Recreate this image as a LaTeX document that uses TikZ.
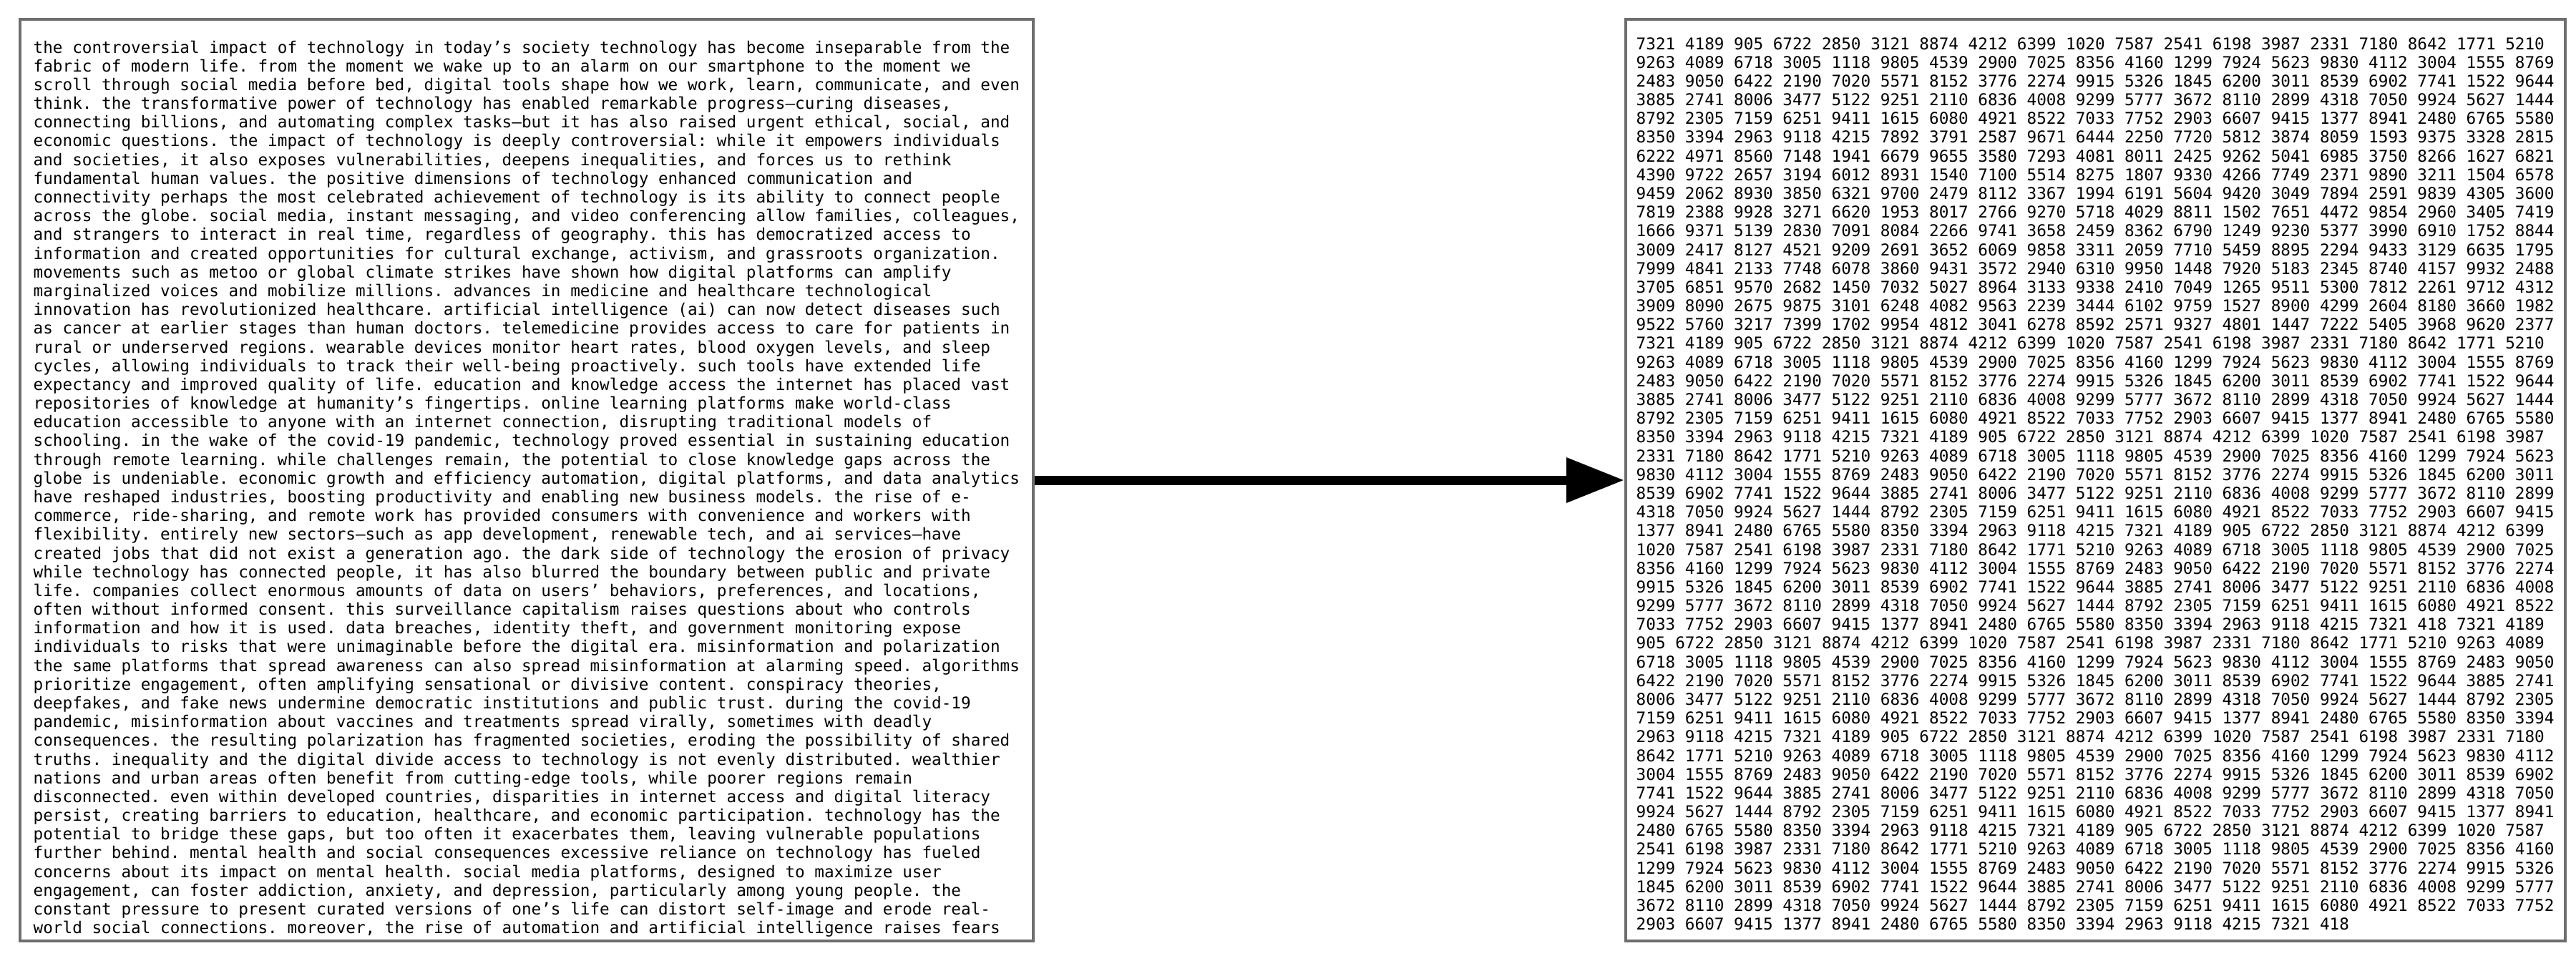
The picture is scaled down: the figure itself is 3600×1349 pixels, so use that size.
\documentclass[tikz,border=0pt]{standalone}
\usepackage{fontspec}
\setmonofont{DejaVu Sans Mono}
\usepackage{xcolor}
\usepackage{tikz}
\usetikzlibrary{arrows.meta}

\definecolor{boxgray}{HTML}{6E6E6E}

\begin{document}
\begin{tikzpicture}[x=0.1mm, y=-0.1mm,
    textbox/.style={draw=boxgray, line width=0.4mm, fill=white, inner sep=0pt},
    bodytext/.style={anchor=north west, inner sep=0pt, align=left,
        font=\ttfamily\fontsize{6.45pt}{7.45pt}\selectfont},
    bigarrow/.style={line width=1.3mm, -{Triangle[length=8.1mm, width=6mm]}}]

\useasboundingbox (0,0) rectangle (3600,1349);

% Input text box
\node[textbox, minimum width=141.6mm, minimum height=128.8mm] (essay) at (736,671) {};

% Output number box
\node[textbox, minimum width=131.3mm, minimum height=128.8mm] (digits) at (2928.5,671) {};

% Text inside the left box
\node[bodytext] (essaytext) at (46,56) {the controversial impact of technology in today’s society technology has become inseparable from the\\
fabric of modern life. from the moment we wake up to an alarm on our smartphone to the moment we\\
scroll through social media before bed, digital tools shape how we work, learn, communicate, and even\\
think. the transformative power of technology has enabled remarkable progress—curing diseases,\\
connecting billions, and automating complex tasks—but it has also raised urgent ethical, social, and\\
economic questions. the impact of technology is deeply controversial: while it empowers individuals\\
and societies, it also exposes vulnerabilities, deepens inequalities, and forces us to rethink\\
fundamental human values. the positive dimensions of technology enhanced communication and\\
connectivity perhaps the most celebrated achievement of technology is its ability to connect people\\
across the globe. social media, instant messaging, and video conferencing allow families, colleagues,\\
and strangers to interact in real time, regardless of geography. this has democratized access to\\
information and created opportunities for cultural exchange, activism, and grassroots organization.\\
movements such as metoo or global climate strikes have shown how digital platforms can amplify\\
marginalized voices and mobilize millions. advances in medicine and healthcare technological\\
innovation has revolutionized healthcare. artificial intelligence (ai) can now detect diseases such\\
as cancer at earlier stages than human doctors. telemedicine provides access to care for patients in\\
rural or underserved regions. wearable devices monitor heart rates, blood oxygen levels, and sleep\\
cycles, allowing individuals to track their well-being proactively. such tools have extended life\\
expectancy and improved quality of life. education and knowledge access the internet has placed vast\\
repositories of knowledge at humanity’s fingertips. online learning platforms make world-class\\
education accessible to anyone with an internet connection, disrupting traditional models of\\
schooling. in the wake of the covid-19 pandemic, technology proved essential in sustaining education\\
through remote learning. while challenges remain, the potential to close knowledge gaps across the\\
globe is undeniable. economic growth and efficiency automation, digital platforms, and data analytics\\
have reshaped industries, boosting productivity and enabling new business models. the rise of e-\\
commerce, ride-sharing, and remote work has provided consumers with convenience and workers with\\
flexibility. entirely new sectors—such as app development, renewable tech, and ai services—have\\
created jobs that did not exist a generation ago. the dark side of technology the erosion of privacy\\
while technology has connected people, it has also blurred the boundary between public and private\\
life. companies collect enormous amounts of data on users’ behaviors, preferences, and locations,\\
often without informed consent. this surveillance capitalism raises questions about who controls\\
information and how it is used. data breaches, identity theft, and government monitoring expose\\
individuals to risks that were unimaginable before the digital era. misinformation and polarization\\
the same platforms that spread awareness can also spread misinformation at alarming speed. algorithms\\
prioritize engagement, often amplifying sensational or divisive content. conspiracy theories,\\
deepfakes, and fake news undermine democratic institutions and public trust. during the covid-19\\
pandemic, misinformation about vaccines and treatments spread virally, sometimes with deadly\\
consequences. the resulting polarization has fragmented societies, eroding the possibility of shared\\
truths. inequality and the digital divide access to technology is not evenly distributed. wealthier\\
nations and urban areas often benefit from cutting-edge tools, while poorer regions remain\\
disconnected. even within developed countries, disparities in internet access and digital literacy\\
persist, creating barriers to education, healthcare, and economic participation. technology has the\\
potential to bridge these gaps, but too often it exacerbates them, leaving vulnerable populations\\
further behind. mental health and social consequences excessive reliance on technology has fueled\\
concerns about its impact on mental health. social media platforms, designed to maximize user\\
engagement, can foster addiction, anxiety, and depression, particularly among young people. the\\
constant pressure to present curated versions of one’s life can distort self-image and erode real-\\
world social connections. moreover, the rise of automation and artificial intelligence raises fears};

% Numbers inside the right box
\node[bodytext] (digitstext) at (2286,51.5) {7321 4189 905 6722 2850 3121 8874 4212 6399 1020 7587 2541 6198 3987 2331 7180 8642 1771 5210\\
9263 4089 6718 3005 1118 9805 4539 2900 7025 8356 4160 1299 7924 5623 9830 4112 3004 1555 8769\\
2483 9050 6422 2190 7020 5571 8152 3776 2274 9915 5326 1845 6200 3011 8539 6902 7741 1522 9644\\
3885 2741 8006 3477 5122 9251 2110 6836 4008 9299 5777 3672 8110 2899 4318 7050 9924 5627 1444\\
8792 2305 7159 6251 9411 1615 6080 4921 8522 7033 7752 2903 6607 9415 1377 8941 2480 6765 5580\\
8350 3394 2963 9118 4215 7892 3791 2587 9671 6444 2250 7720 5812 3874 8059 1593 9375 3328 2815\\
6222 4971 8560 7148 1941 6679 9655 3580 7293 4081 8011 2425 9262 5041 6985 3750 8266 1627 6821\\
4390 9722 2657 3194 6012 8931 1540 7100 5514 8275 1807 9330 4266 7749 2371 9890 3211 1504 6578\\
9459 2062 8930 3850 6321 9700 2479 8112 3367 1994 6191 5604 9420 3049 7894 2591 9839 4305 3600\\
7819 2388 9928 3271 6620 1953 8017 2766 9270 5718 4029 8811 1502 7651 4472 9854 2960 3405 7419\\
1666 9371 5139 2830 7091 8084 2266 9741 3658 2459 8362 6790 1249 9230 5377 3990 6910 1752 8844\\
3009 2417 8127 4521 9209 2691 3652 6069 9858 3311 2059 7710 5459 8895 2294 9433 3129 6635 1795\\
7999 4841 2133 7748 6078 3860 9431 3572 2940 6310 9950 1448 7920 5183 2345 8740 4157 9932 2488\\
3705 6851 9570 2682 1450 7032 5027 8964 3133 9338 2410 7049 1265 9511 5300 7812 2261 9712 4312\\
3909 8090 2675 9875 3101 6248 4082 9563 2239 3444 6102 9759 1527 8900 4299 2604 8180 3660 1982\\
9522 5760 3217 7399 1702 9954 4812 3041 6278 8592 2571 9327 4801 1447 7222 5405 3968 9620 2377\\
7321 4189 905 6722 2850 3121 8874 4212 6399 1020 7587 2541 6198 3987 2331 7180 8642 1771 5210\\
9263 4089 6718 3005 1118 9805 4539 2900 7025 8356 4160 1299 7924 5623 9830 4112 3004 1555 8769\\
2483 9050 6422 2190 7020 5571 8152 3776 2274 9915 5326 1845 6200 3011 8539 6902 7741 1522 9644\\
3885 2741 8006 3477 5122 9251 2110 6836 4008 9299 5777 3672 8110 2899 4318 7050 9924 5627 1444\\
8792 2305 7159 6251 9411 1615 6080 4921 8522 7033 7752 2903 6607 9415 1377 8941 2480 6765 5580\\
8350 3394 2963 9118 4215 7321 4189 905 6722 2850 3121 8874 4212 6399 1020 7587 2541 6198 3987\\
2331 7180 8642 1771 5210 9263 4089 6718 3005 1118 9805 4539 2900 7025 8356 4160 1299 7924 5623\\
9830 4112 3004 1555 8769 2483 9050 6422 2190 7020 5571 8152 3776 2274 9915 5326 1845 6200 3011\\
8539 6902 7741 1522 9644 3885 2741 8006 3477 5122 9251 2110 6836 4008 9299 5777 3672 8110 2899\\
4318 7050 9924 5627 1444 8792 2305 7159 6251 9411 1615 6080 4921 8522 7033 7752 2903 6607 9415\\
1377 8941 2480 6765 5580 8350 3394 2963 9118 4215 7321 4189 905 6722 2850 3121 8874 4212 6399\\
1020 7587 2541 6198 3987 2331 7180 8642 1771 5210 9263 4089 6718 3005 1118 9805 4539 2900 7025\\
8356 4160 1299 7924 5623 9830 4112 3004 1555 8769 2483 9050 6422 2190 7020 5571 8152 3776 2274\\
9915 5326 1845 6200 3011 8539 6902 7741 1522 9644 3885 2741 8006 3477 5122 9251 2110 6836 4008\\
9299 5777 3672 8110 2899 4318 7050 9924 5627 1444 8792 2305 7159 6251 9411 1615 6080 4921 8522\\
7033 7752 2903 6607 9415 1377 8941 2480 6765 5580 8350 3394 2963 9118 4215 7321 418 7321 4189\\
905 6722 2850 3121 8874 4212 6399 1020 7587 2541 6198 3987 2331 7180 8642 1771 5210 9263 4089\\
6718 3005 1118 9805 4539 2900 7025 8356 4160 1299 7924 5623 9830 4112 3004 1555 8769 2483 9050\\
6422 2190 7020 5571 8152 3776 2274 9915 5326 1845 6200 3011 8539 6902 7741 1522 9644 3885 2741\\
8006 3477 5122 9251 2110 6836 4008 9299 5777 3672 8110 2899 4318 7050 9924 5627 1444 8792 2305\\
7159 6251 9411 1615 6080 4921 8522 7033 7752 2903 6607 9415 1377 8941 2480 6765 5580 8350 3394\\
2963 9118 4215 7321 4189 905 6722 2850 3121 8874 4212 6399 1020 7587 2541 6198 3987 2331 7180\\
8642 1771 5210 9263 4089 6718 3005 1118 9805 4539 2900 7025 8356 4160 1299 7924 5623 9830 4112\\
3004 1555 8769 2483 9050 6422 2190 7020 5571 8152 3776 2274 9915 5326 1845 6200 3011 8539 6902\\
7741 1522 9644 3885 2741 8006 3477 5122 9251 2110 6836 4008 9299 5777 3672 8110 2899 4318 7050\\
9924 5627 1444 8792 2305 7159 6251 9411 1615 6080 4921 8522 7033 7752 2903 6607 9415 1377 8941\\
2480 6765 5580 8350 3394 2963 9118 4215 7321 4189 905 6722 2850 3121 8874 4212 6399 1020 7587\\
2541 6198 3987 2331 7180 8642 1771 5210 9263 4089 6718 3005 1118 9805 4539 2900 7025 8356 4160\\
1299 7924 5623 9830 4112 3004 1555 8769 2483 9050 6422 2190 7020 5571 8152 3776 2274 9915 5326\\
1845 6200 3011 8539 6902 7741 1522 9644 3885 2741 8006 3477 5122 9251 2110 6836 4008 9299 5777\\
3672 8110 2899 4318 7050 9924 5627 1444 8792 2305 7159 6251 9411 1615 6080 4921 8522 7033 7752\\
2903 6607 9415 1377 8941 2480 6765 5580 8350 3394 2963 9118 4215 7321 418};

% Arrow from text to numbers
\draw[bigarrow] (essay.east) -- (digits.west);

\end{tikzpicture}
\end{document}
